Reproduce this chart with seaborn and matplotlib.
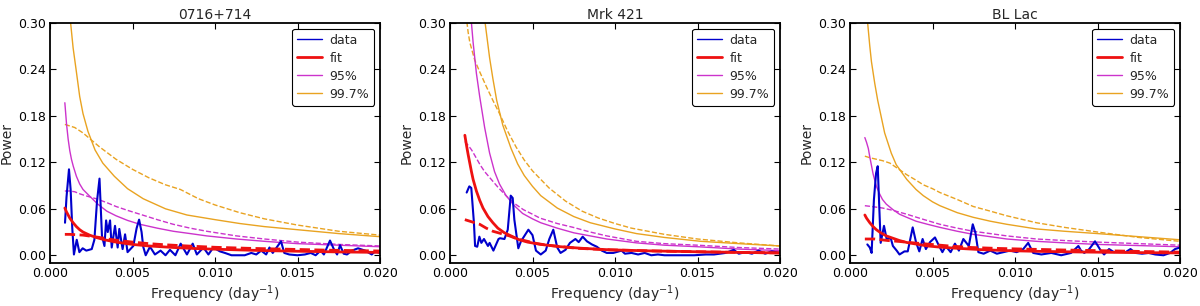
import numpy as np
import pandas as pd
import matplotlib
matplotlib.use("Agg")
import matplotlib.pyplot as plt
import seaborn as sns
from matplotlib.lines import Line2D

# ---------------- data ----------------
titles = ["0716+714", "Mrk 421", "BL Lac"]
legend_labels = ["data", "fit", "95%", "99.7%"]
xticks = [0.000, 0.005, 0.010, 0.015, 0.020]
yticks = [0.00, 0.06, 0.12, 0.18, 0.24, 0.30]

# Panel 1: 0716+714
data1_f = [0.00091, 0.00100, 0.00115, 0.00125, 0.00135, 0.00145, 0.00162, 0.00178, 0.00198, 0.00220,
           0.00253, 0.00269, 0.00285, 0.00300, 0.00315, 0.00330, 0.00340, 0.00350, 0.00364, 0.00374,
           0.00394, 0.00410, 0.00420, 0.00440, 0.00455, 0.00470, 0.00505, 0.00525, 0.00540, 0.00555,
           0.00565, 0.00580, 0.00606, 0.00636, 0.00670, 0.00700, 0.00727, 0.00760, 0.00792, 0.00830,
           0.00865, 0.00890, 0.00930, 0.00960, 0.00990, 0.01030, 0.01060, 0.01100, 0.01140, 0.01180,
           0.01220, 0.01250, 0.01280, 0.01310, 0.01330, 0.01350, 0.01370, 0.01400, 0.01420, 0.01450,
           0.01500, 0.01545, 0.01580, 0.01610, 0.01640, 0.01660, 0.01697, 0.01720, 0.01740, 0.01758,
           0.01780, 0.01800, 0.01830, 0.01867, 0.01910, 0.01950, 0.01970, 0.02000]
data1_p = [0.042, 0.075, 0.111, 0.085, 0.035, 0.001, 0.020, 0.004, 0.009, 0.006,
           0.008, 0.020, 0.070, 0.099, 0.025, 0.012, 0.045, 0.030, 0.045, 0.010,
           0.038, 0.010, 0.034, 0.008, 0.027, 0.004, 0.012, 0.035, 0.046, 0.030,
           0.011, 0.000, 0.011, 0.001, 0.006, 0.000, 0.007, 0.000, 0.015, 0.001,
           0.015, 0.001, 0.010, 0.001, 0.010, 0.005, 0.003, 0.000, 0.000, 0.000,
           0.003, 0.001, 0.006, 0.001, 0.010, 0.003, 0.009, 0.018, 0.003, 0.001,
           0.000, 0.001, 0.003, 0.000, 0.006, 0.001, 0.019, 0.008, 0.001, 0.013,
           0.002, 0.001, 0.006, 0.009, 0.006, 0.001, 0.005, 0.003]

# Panel 2: Mrk 421
data2_f = [0.00101, 0.00117, 0.00129, 0.00145, 0.00152, 0.00165, 0.00178, 0.00190, 0.00206, 0.00230,
           0.00240, 0.00263, 0.00294, 0.00303, 0.00330, 0.00350, 0.00368, 0.00380, 0.00390, 0.00414,
           0.00430, 0.00475, 0.00500, 0.00521, 0.00550, 0.00580, 0.00602, 0.00626, 0.00650, 0.00670,
           0.00700, 0.00727, 0.00760, 0.00780, 0.00804, 0.00830, 0.00860, 0.00890, 0.00920, 0.00950,
           0.00990, 0.01040, 0.01060, 0.01100, 0.01140, 0.01180, 0.01220, 0.01260, 0.01300, 0.01360,
           0.01420, 0.01480, 0.01550, 0.01600, 0.01670, 0.01720, 0.01750, 0.01790, 0.01830, 0.01870,
           0.01910, 0.01950, 0.02000]
data2_p = [0.081, 0.089, 0.087, 0.042, 0.012, 0.011, 0.024, 0.016, 0.021, 0.012,
           0.016, 0.006, 0.021, 0.022, 0.021, 0.033, 0.077, 0.074, 0.046, 0.009,
           0.018, 0.033, 0.026, 0.006, 0.001, 0.006, 0.021, 0.033, 0.010, 0.003,
           0.007, 0.016, 0.021, 0.017, 0.024, 0.018, 0.014, 0.011, 0.006, 0.003,
           0.003, 0.006, 0.002, 0.003, 0.001, 0.003, 0.000, 0.001, 0.000, 0.000,
           0.000, 0.000, 0.001, 0.001, 0.003, 0.007, 0.002, 0.004, 0.002, 0.006,
           0.002, 0.005, 0.003]

# Panel 3: BL Lac
data3_f = [0.00105, 0.00120, 0.00131, 0.00145, 0.00158, 0.00168, 0.00178, 0.00186, 0.00206, 0.00222,
           0.00247, 0.00260, 0.00283, 0.00300, 0.00330, 0.00350, 0.00380, 0.00400, 0.00420, 0.00440,
           0.00460, 0.00485, 0.00515, 0.00540, 0.00560, 0.00580, 0.00610, 0.00636, 0.00660, 0.00687,
           0.00720, 0.00744, 0.00760, 0.00778, 0.00810, 0.00850, 0.00890, 0.00930, 0.00970, 0.01010,
           0.01050, 0.01080, 0.01110, 0.01160, 0.01220, 0.01280, 0.01340, 0.01384, 0.01400, 0.01420,
           0.01450, 0.01485, 0.01520, 0.01540, 0.01570, 0.01600, 0.01630, 0.01670, 0.01700, 0.01730,
           0.01770, 0.01810, 0.01850, 0.01900, 0.01940, 0.01970, 0.02000]
data3_p = [0.014, 0.010, 0.003, 0.072, 0.106, 0.115, 0.059, 0.016, 0.038, 0.021,
           0.022, 0.012, 0.006, 0.001, 0.005, 0.005, 0.036, 0.017, 0.005, 0.021,
           0.008, 0.017, 0.023, 0.012, 0.004, 0.012, 0.004, 0.015, 0.006, 0.021,
           0.012, 0.040, 0.029, 0.004, 0.002, 0.006, 0.002, 0.004, 0.006, 0.004,
           0.008, 0.016, 0.003, 0.001, 0.003, 0.000, 0.003, 0.012, 0.006, 0.003,
           0.008, 0.018, 0.006, 0.001, 0.008, 0.004, 0.005, 0.004, 0.008, 0.003,
           0.002, 0.003, 0.001, 0.000, 0.003, 0.008, 0.010]

# ---- model / significance curves ----
fit1_f = [0.0009, 0.0010, 0.0011, 0.0012, 0.0014, 0.0016, 0.0018, 0.0020, 0.0024, 0.0028, 0.0033,
          0.0040, 0.0050, 0.0060, 0.0075, 0.0090, 0.0110, 0.0130, 0.0150, 0.0175, 0.0200]
fit1_p = [0.061, 0.056, 0.052, 0.048, 0.042, 0.037, 0.033, 0.030, 0.026, 0.023, 0.020,
          0.017, 0.014, 0.012, 0.010, 0.0085, 0.0072, 0.006, 0.0052, 0.0043, 0.0037]
fitd1_f = [0.0009, 0.0012, 0.0016, 0.0020, 0.0025, 0.0030, 0.0035, 0.0040, 0.0050, 0.0060, 0.0070,
           0.0085, 0.0100, 0.0120, 0.0140, 0.0170, 0.0200]
fitd1_p = [0.027, 0.027, 0.0265, 0.026, 0.0245, 0.023, 0.021, 0.0195, 0.017, 0.015, 0.0135,
           0.0118, 0.0103, 0.009, 0.008, 0.0065, 0.0055]
c95_1_f = [0.0009, 0.0010, 0.0011, 0.0012, 0.0013, 0.00141, 0.0016, 0.0018, 0.0020, 0.00242, 0.0029,
           0.00344, 0.0040, 0.0047, 0.00545, 0.0065, 0.00747, 0.0085, 0.0095, 0.0113, 0.0130, 0.0150,
           0.0175, 0.0200]
c95_1_p = [0.197, 0.170, 0.150, 0.135, 0.124, 0.115, 0.102, 0.092, 0.085, 0.076, 0.066,
           0.057, 0.051, 0.045, 0.040, 0.035, 0.031, 0.028, 0.025, 0.021, 0.018, 0.015,
           0.013, 0.011]
c95d1_f = [0.0009, 0.0012, 0.0015, 0.00185, 0.0023, 0.0028, 0.00344, 0.0040, 0.0047, 0.00545, 0.0065,
           0.00747, 0.0085, 0.0095, 0.0113, 0.0130, 0.0150, 0.0175, 0.0200]
c95d1_p = [0.083, 0.083, 0.082, 0.079, 0.076, 0.073, 0.068, 0.063, 0.058, 0.053, 0.046,
           0.040, 0.035, 0.031, 0.025, 0.021, 0.017, 0.014, 0.012]
c997_1_f = [0.0009, 0.0010, 0.0011, 0.00125, 0.0014, 0.00158, 0.0018, 0.0020, 0.0023, 0.00273, 0.0032,
            0.0039, 0.0047, 0.00565, 0.0070, 0.0083, 0.0100, 0.0115, 0.0130, 0.0150, 0.0175, 0.0200]
c997_1_p = [0.400, 0.360, 0.330, 0.300, 0.268, 0.240, 0.205, 0.183, 0.160, 0.136, 0.119,
            0.102, 0.086, 0.073, 0.060, 0.052, 0.046, 0.041, 0.037, 0.033, 0.028, 0.024]
c997d1_f = [0.0009, 0.0012, 0.0015, 0.0020, 0.0025, 0.0030, 0.0040, 0.0050, 0.0060, 0.0070, 0.0079,
            0.0090, 0.0100, 0.0115, 0.0130, 0.0150, 0.0175, 0.0200]
c997d1_p = [0.169, 0.167, 0.165, 0.158, 0.149, 0.140, 0.124, 0.111, 0.100, 0.091, 0.085,
            0.073, 0.065, 0.055, 0.047, 0.039, 0.031, 0.026]

fit2_f = [0.0009, 0.0010, 0.0011, 0.0012, 0.0013, 0.0014, 0.0016, 0.0018, 0.0020, 0.0023, 0.0026,
          0.0029, 0.0033, 0.0037, 0.0042, 0.0047, 0.0055, 0.0067, 0.0080, 0.0097, 0.0120, 0.0150,
          0.0175, 0.0200]
fit2_p = [0.155, 0.142, 0.130, 0.119, 0.108, 0.098, 0.083, 0.071, 0.061, 0.050, 0.042,
          0.035, 0.029, 0.025, 0.020, 0.017, 0.014, 0.011, 0.009, 0.007, 0.0057, 0.0045,
          0.0037, 0.003]
fitd2_f = [0.0009, 0.0012, 0.0015, 0.0018, 0.0022, 0.0026, 0.0031, 0.0036, 0.0041, 0.0047, 0.0053,
           0.0059, 0.0068, 0.0077, 0.0087, 0.0097, 0.0120, 0.0150, 0.0175, 0.0200]
fitd2_p = [0.046, 0.044, 0.042, 0.040, 0.035, 0.031, 0.028, 0.025, 0.021, 0.018, 0.015,
           0.013, 0.011, 0.009, 0.008, 0.007, 0.0057, 0.0045, 0.0037, 0.003]
c95_2_f = [0.0009, 0.0010, 0.0011, 0.0012, 0.0013, 0.0014, 0.0015, 0.0016, 0.0018, 0.0021, 0.0024,
           0.0027, 0.0030, 0.0034, 0.0039, 0.0044, 0.0050, 0.0055, 0.0065, 0.0075, 0.0085, 0.0095,
           0.0113, 0.0130, 0.0150, 0.0175, 0.0200]
c95_2_p = [0.600, 0.480, 0.400, 0.340, 0.300, 0.275, 0.255, 0.235, 0.205, 0.165, 0.132,
           0.108, 0.092, 0.077, 0.064, 0.054, 0.047, 0.042, 0.035, 0.029, 0.025, 0.021,
           0.016, 0.013, 0.011, 0.008, 0.006]
c95d2_f = [0.0009, 0.0011, 0.00131, 0.0015, 0.00182, 0.0021, 0.00242, 0.0029, 0.00344, 0.0039, 0.00444,
           0.0050, 0.00545, 0.0065, 0.00747, 0.0085, 0.0095, 0.0113, 0.0130, 0.0150, 0.0175, 0.0200]
c95d2_p = [0.147, 0.142, 0.136, 0.129, 0.117, 0.108, 0.100, 0.088, 0.076, 0.067, 0.059,
           0.053, 0.048, 0.041, 0.036, 0.030, 0.025, 0.018, 0.015, 0.013, 0.010, 0.008]
c997_2_f = [0.0009, 0.0012, 0.0015, 0.0018, 0.0021, 0.0024, 0.0026, 0.00283, 0.0032, 0.0037, 0.0041,
            0.0045, 0.0050, 0.0055, 0.0065, 0.0075, 0.0085, 0.0100, 0.0113, 0.0130, 0.0152, 0.0175,
            0.0200]
c997_2_p = [0.900, 0.600, 0.450, 0.370, 0.305, 0.255, 0.228, 0.200, 0.168, 0.138, 0.118,
            0.103, 0.089, 0.077, 0.061, 0.050, 0.042, 0.034, 0.028, 0.023, 0.018, 0.015,
            0.012]
c997d2_f = [0.0009, 0.0010, 0.0011, 0.0012, 0.0015, 0.0018, 0.0022, 0.0026, 0.0030, 0.0035, 0.0040,
            0.0045, 0.0050, 0.0060, 0.0070, 0.0080, 0.0090, 0.0100, 0.0110, 0.0130, 0.0150, 0.0175,
            0.0200]
c997d2_p = [0.330, 0.305, 0.288, 0.275, 0.252, 0.237, 0.218, 0.200, 0.183, 0.160, 0.140,
            0.123, 0.109, 0.087, 0.070, 0.057, 0.048, 0.041, 0.035, 0.027, 0.021, 0.016,
            0.012]

fit3_f = [0.0009, 0.0010, 0.0011, 0.0012, 0.0014, 0.0016, 0.00186, 0.0022, 0.0026, 0.0030, 0.00344,
          0.0040, 0.0047, 0.00545, 0.0065, 0.0080, 0.0095, 0.0115, 0.0140, 0.0170, 0.0200]
fit3_p = [0.052, 0.048, 0.045, 0.042, 0.037, 0.033, 0.029, 0.025, 0.022, 0.019, 0.0165,
          0.0145, 0.012, 0.0105, 0.009, 0.0072, 0.006, 0.005, 0.0042, 0.0035, 0.003]
fitd3_f = [0.0009, 0.0015, 0.0023, 0.0030, 0.0037, 0.0044, 0.0052, 0.0060, 0.0074, 0.0090, 0.0105,
           0.0130, 0.0150, 0.0175, 0.0200]
fitd3_p = [0.021, 0.021, 0.019, 0.0178, 0.0163, 0.015, 0.0135, 0.012, 0.010, 0.0088, 0.008,
           0.0068, 0.006, 0.005, 0.004]
c95_3_f = [0.0009, 0.0010, 0.00111, 0.0012, 0.00131, 0.0014, 0.0016, 0.0018, 0.00197, 0.0022, 0.0026,
           0.0030, 0.00344, 0.0040, 0.0047, 0.00545, 0.0065, 0.00747, 0.0085, 0.0095, 0.0113, 0.0130,
           0.0150, 0.0175, 0.0200]
c95_3_p = [0.152, 0.146, 0.138, 0.127, 0.115, 0.105, 0.089, 0.079, 0.072, 0.066, 0.059,
           0.053, 0.049, 0.044, 0.040, 0.036, 0.031, 0.027, 0.024, 0.021, 0.018, 0.016,
           0.014, 0.0125, 0.011]
c95d3_f = [0.0009, 0.0013, 0.00197, 0.0026, 0.00344, 0.0045, 0.00545, 0.0065, 0.00747, 0.0085, 0.0095,
           0.0113, 0.0130, 0.0150, 0.0175, 0.0200]
c95d3_p = [0.064, 0.063, 0.061, 0.058, 0.053, 0.046, 0.040, 0.035, 0.031, 0.028, 0.025,
           0.021, 0.019, 0.017, 0.015, 0.013]
c997_3_f = [0.0009, 0.00107, 0.0012, 0.0013, 0.0015, 0.00168, 0.0019, 0.0021, 0.0025, 0.0028, 0.00344,
            0.0040, 0.00444, 0.0050, 0.00545, 0.0065, 0.00747, 0.0085, 0.0095, 0.0113, 0.0130, 0.0150,
            0.0175, 0.0200]
c997_3_p = [0.340, 0.300, 0.270, 0.250, 0.222, 0.200, 0.178, 0.158, 0.132, 0.117, 0.098,
            0.085, 0.077, 0.069, 0.064, 0.055, 0.049, 0.044, 0.040, 0.034, 0.031, 0.028,
            0.024, 0.020]
c997d3_f = [0.0009, 0.0012, 0.0016, 0.0020, 0.00242, 0.0029, 0.00344, 0.0040, 0.00444, 0.0050, 0.00545,
            0.0065, 0.00747, 0.0085, 0.0095, 0.0113, 0.0130, 0.0150, 0.0175, 0.0200]
c997d3_p = [0.128, 0.126, 0.124, 0.122, 0.119, 0.112, 0.104, 0.097, 0.091, 0.086, 0.081,
            0.072, 0.063, 0.057, 0.051, 0.042, 0.036, 0.030, 0.023, 0.018]

panels = [
    dict(data=(data1_f, data1_p), fit=(fit1_f, fit1_p), fitd=(fitd1_f, fitd1_p),
         c95=(c95_1_f, c95_1_p), c95d=(c95d1_f, c95d1_p), c997=(c997_1_f, c997_1_p), c997d=(c997d1_f, c997d1_p)),
    dict(data=(data2_f, data2_p), fit=(fit2_f, fit2_p), fitd=(fitd2_f, fitd2_p),
         c95=(c95_2_f, c95_2_p), c95d=(c95d2_f, c95d2_p), c997=(c997_2_f, c997_2_p), c997d=(c997d2_f, c997d2_p)),
    dict(data=(data3_f, data3_p), fit=(fit3_f, fit3_p), fitd=(fitd3_f, fitd3_p),
         c95=(c95_3_f, c95_3_p), c95d=(c95d3_f, c95d3_p), c997=(c997_3_f, c997_3_p), c997d=(c997d3_f, c997d3_p)),
]

# ---------------- style ----------------
sns.set_style("ticks", {
    "xtick.direction": "in", "ytick.direction": "in",
    "xtick.top": True, "ytick.right": True,
    "axes.edgecolor": "black",
})
plt.rcParams["font.family"] = ["DejaVu Sans"]
plt.rcParams["xtick.major.size"] = 4
plt.rcParams["ytick.major.size"] = 4

BLUE = "#0000cc"
RED = "#ee1111"
MAG = "#cc33cc"
ORA = "#e9a321"

fig = plt.figure(figsize=(12, 3.06), dpi=100)

styles = {
    "c997d": dict(color=ORA, lw=1.0, ls="--"),
    "c95d": dict(color=MAG, lw=1.0, ls="--"),
    "c997": dict(color=ORA, lw=1.0, ls="-"),
    "c95": dict(color=MAG, lw=1.0, ls="-"),
    "data": dict(color=BLUE, lw=1.5, ls="-"),
    "fitd": dict(color=RED, lw=2.0, ls="--"),
    "fit": dict(color=RED, lw=2.0, ls="-"),
}

for i, (title, pan) in enumerate(zip(titles, panels)):
    ax = fig.add_axes([(50 + 400 * i) / 1200, 43 / 306, 330 / 1200, 240 / 306])
    for key in ["c997d", "c95d", "c997", "c95", "data", "fitd", "fit"]:
        fx, py = pan[key]
        st = styles[key]
        sns.lineplot(x=np.array(fx), y=np.array(py), ax=ax, color=st["color"],
                     linewidth=st["lw"], linestyle=st["ls"], estimator=None, sort=True)
    ax.set_xlim(0.0, 0.02)
    ax.set_ylim(-0.01, 0.30)
    ax.set_xticks(xticks)
    ax.set_xticklabels([f"{v:.3f}" for v in xticks], fontsize=9)
    ax.set_yticks(yticks)
    ax.set_yticklabels([f"{v:.2f}" for v in yticks], fontsize=9)
    ax.set_xlabel("Frequency (day$^{-1}$)", fontsize=10, labelpad=2)
    ax.set_ylabel("Power", fontsize=10, labelpad=3)
    ax.set_title(title, fontsize=10, pad=3)
    for sp in ax.spines.values():
        sp.set_linewidth(1.3)
        sp.set_color("black")
    ax.tick_params(width=0.8, colors="black", pad=3)
    handles = [Line2D([], [], color=BLUE, lw=1.0),
               Line2D([], [], color=RED, lw=2.0),
               Line2D([], [], color=MAG, lw=1.0),
               Line2D([], [], color=ORA, lw=1.0)]
    leg = ax.legend(handles, legend_labels, loc="upper right", fontsize=9,
                    frameon=True, fancybox=True, handlelength=2.0,
                    borderpad=0.4, labelspacing=0.4, handletextpad=0.6,
                    borderaxespad=0.45)
    leg.get_frame().set_edgecolor("black")
    leg.get_frame().set_linewidth(0.8)
    leg.get_frame().set_alpha(1.0)

fig.savefig("out.png", dpi=100)
